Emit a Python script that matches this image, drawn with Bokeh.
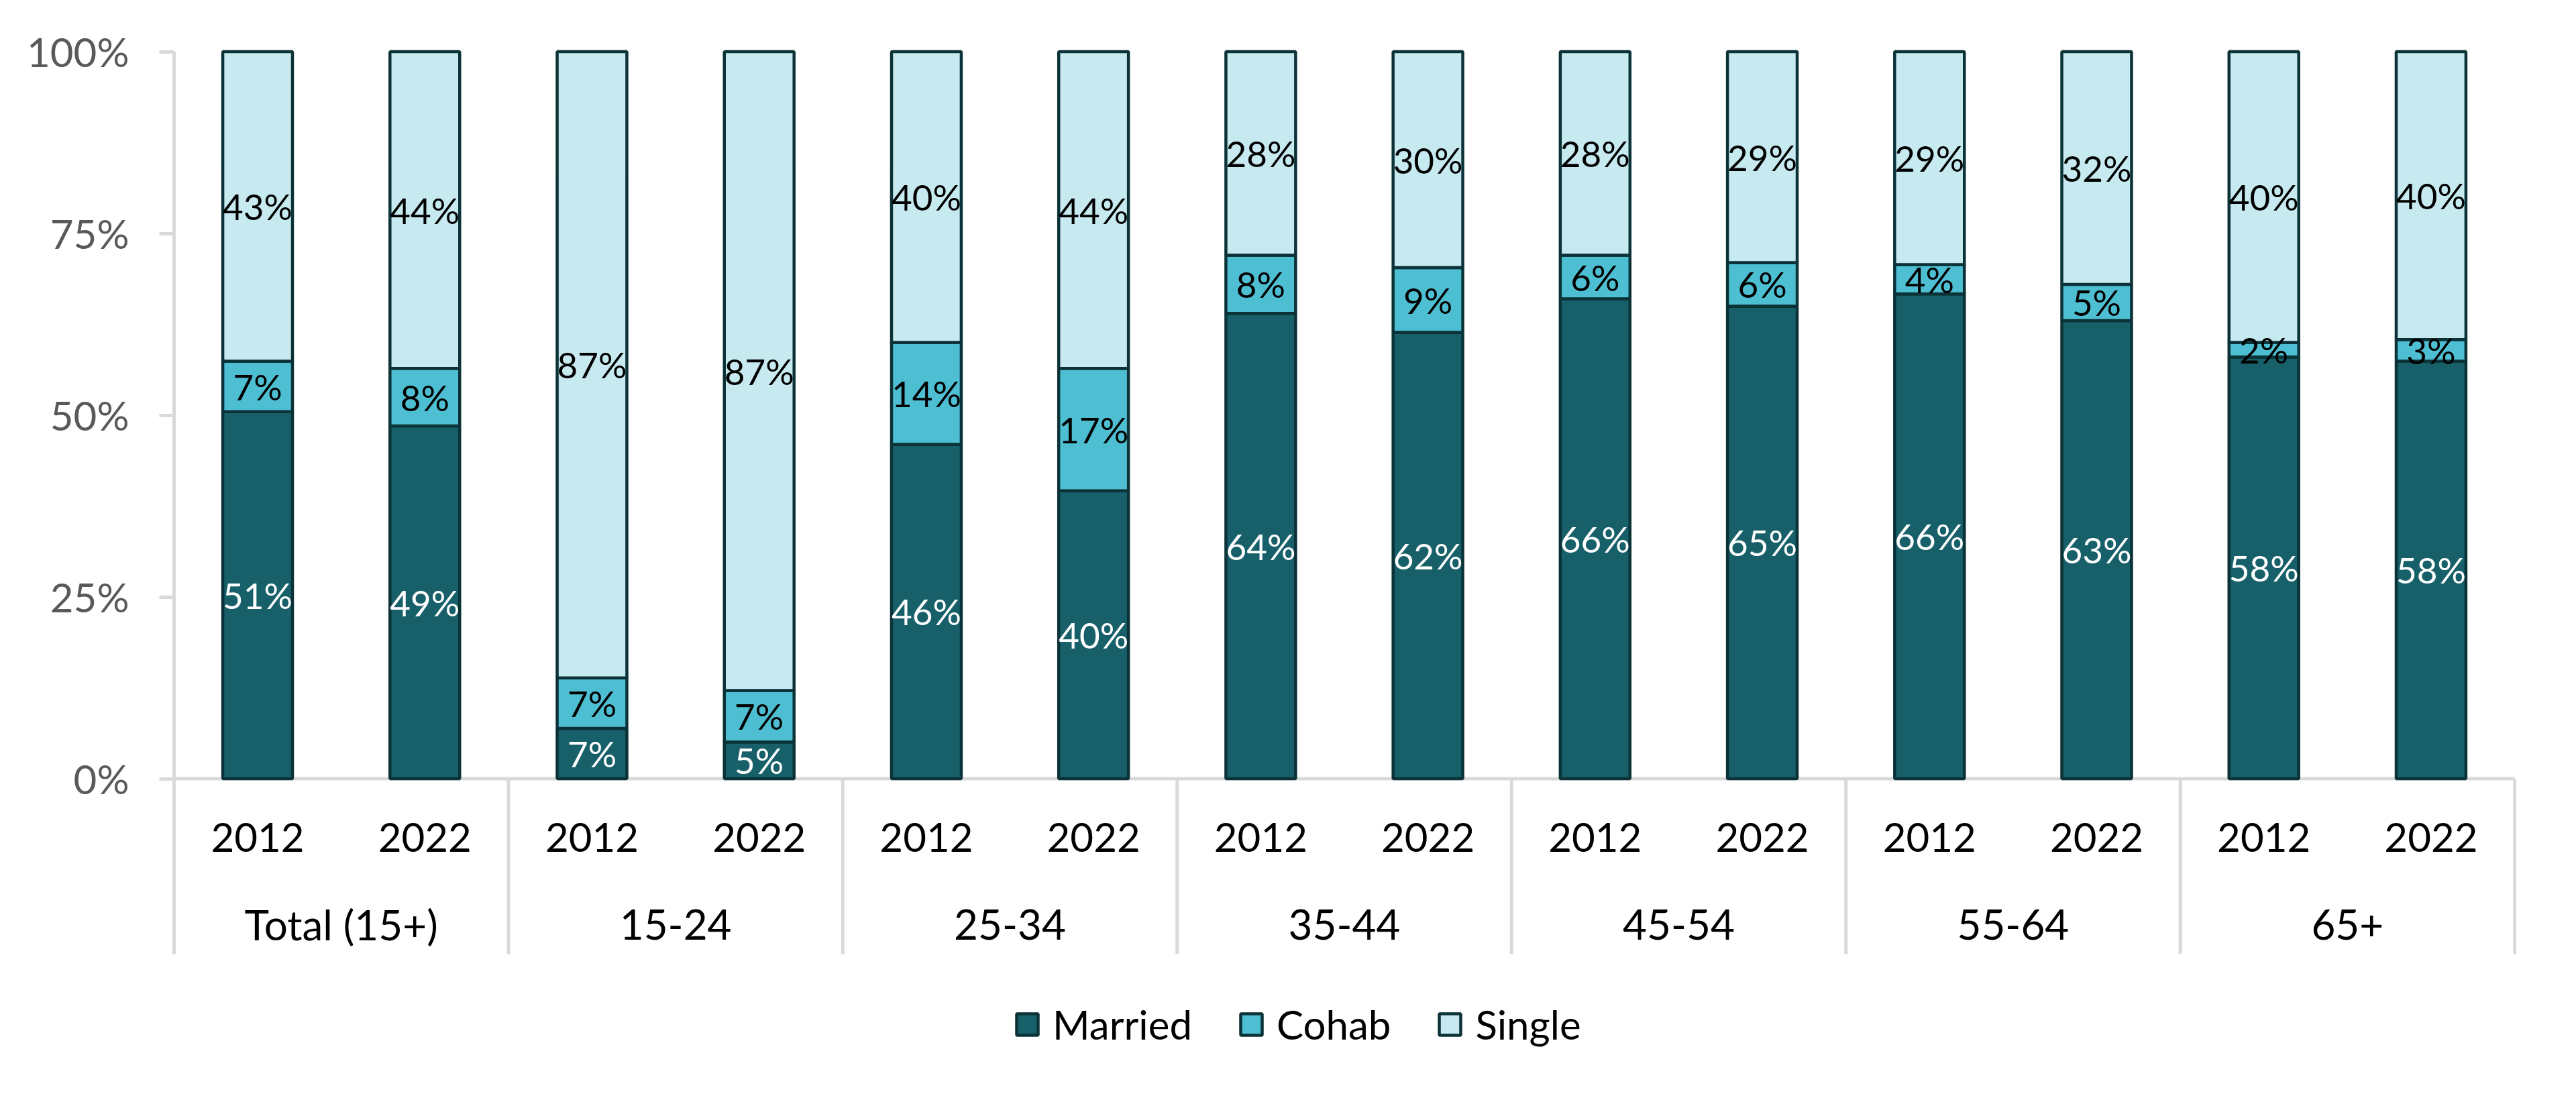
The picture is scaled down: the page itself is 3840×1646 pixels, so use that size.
from bokeh.plotting import figure
from bokeh.models import (FactorRange, Range1d, ColumnDataSource, Legend, LegendItem,
                          FixedTicker, CategoricalAxis, LinearAxis, CustomJSTickFormatter)
from bokeh.core.properties import value
from bokeh.embed import file_html
from bokeh.resources import INLINE

# ---------------- data ----------------
groups = ["Total (15+)", "15-24", "25-34", "35-44", "45-54", "55-64", "65+"]
years = ["2012", "2022"]
series = ["Married", "Cohab", "Single"]
married = [51, 49, 7, 5, 46, 40, 64, 62, 66, 65, 66, 63, 58, 58]
cohab = [7, 8, 7, 7, 14, 17, 8, 9, 6, 6, 4, 5, 2, 3]
single = [43, 44, 87, 87, 40, 44, 28, 30, 28, 29, 29, 32, 40, 40]
y_ticks = [0, 25, 50, 75, 100]

# ---------------- style ----------------
colors = ["#17606A", "#4EBFD2", "#C7EAF0"]
label_colors = ["#FFFFFF", "#000000", "#000000"]
outline = "#0B3237"
grid_grey = "#D9D9D9"
FONT = "Lato"

keys = [f"{g}|{y}" for g in groups for y in years]

raw = {"Married": married, "Cohab": cohab, "Single": single}
totals = [m + c + s for m, c, s in zip(married, cohab, single)]
data = {"x": keys}
for s in series:
    data[s] = [v / t * 100 for v, t in zip(raw[s], totals)]
src = ColumnDataSource(data)

p = figure(x_range=FactorRange(*keys, range_padding=0.06, range_padding_units="absolute",
                               factor_padding=0),
           y_range=Range1d(-41.19, 101.34),
           width=3800, height=1615, output_backend="svg", toolbar_location=None,
           x_axis_location=None, y_axis_location=None,
           min_border_left=244, min_border_right=37, min_border_top=62, min_border_bottom=8,
           outline_line_color=None)
p.xgrid.visible = False
p.ygrid.visible = False

# y axis
yaxis = LinearAxis(ticker=FixedTicker(ticks=y_ticks),
                   major_label_overrides={t: f"{t}%" for t in y_ticks},
                   axis_line_color=None, minor_tick_line_color=None,
                   major_tick_line_color=grid_grey, major_tick_line_width=5,
                   major_tick_in=15, major_tick_out=7, major_label_standoff=45,
                   major_label_text_font=FONT, major_label_text_font_size="60px",
                   major_label_text_color="#595959")
p.add_layout(yaxis, "left")

# x axis (years) at y=0
xaxis = CategoricalAxis(fixed_location=0,
                        formatter=CustomJSTickFormatter(code="return tick.split('|')[1];"),
                        axis_line_color=None, major_tick_line_color=None,
                        major_tick_in=0, major_tick_out=0,
                        minor_tick_line_color=None, major_label_standoff=66,
                        major_label_text_font=FONT, major_label_text_font_size="60px",
                        major_label_text_color="#000000")
p.add_layout(xaxis, "below")

# separators and baseline
first_keys = [f"{g}|{years[0]}" for g in groups]
last_key = keys[-1]
sep_x = [(k, -0.5) for k in first_keys] + [(last_key, 0.5)]
sep_top = [100] + [0] * (len(sep_x) - 1)
sep_src = ColumnDataSource(dict(x=sep_x, y0=[-24.12] * len(sep_x), y1=sep_top))
p.segment(x0="x", y0="y0", x1="x", y1="y1", source=sep_src,
          line_color=grid_grey, line_width=5)
p.segment(x0=[(first_keys[0], -0.5)], y0=[0], x1=[(last_key, 0.5)], y1=[0],
          line_color=grid_grey, line_width=5)

# bars
renderers = p.vbar_stack(series, x="x", width=0.417, source=src, color=colors,
                         line_color=outline, line_width=4.5)

# data labels
for i, s in enumerate(series):
    bottoms = [sum(data[t][j] for t in series[:i]) for j in range(len(keys))]
    centers = [b + v / 2 for b, v in zip(bottoms, data[s])]
    lsrc = ColumnDataSource(dict(x=keys, y=centers, t=[f"{v}%" for v in raw[s]]))
    p.text(x="x", y="y", text="t", source=lsrc, text_align="center",
           text_baseline="middle", text_font=value(FONT), text_font_size="53px",
           text_color=label_colors[i])

# group labels
gsrc = ColumnDataSource(dict(x=[(k, 0.5) for k in first_keys], y=[-20.06] * len(groups), t=groups))
p.text(x="x", y="y", text="t", source=gsrc, text_align="center", text_baseline="middle",
       text_font=value(FONT), text_font_size="62px", text_color="#000000")

# legend
legend = Legend(items=[LegendItem(label=s, renderers=[r]) for s, r in zip(series, renderers)],
                orientation="horizontal", location=(1267, 44),
                label_text_font=FONT, label_text_font_size="60px", label_text_color="#000000",
                glyph_width=40, glyph_height=40, label_standoff=18, spacing=68,
                padding=0, margin=0, border_line_alpha=0, background_fill_alpha=0)
p.add_layout(legend, "center")

open("out.html", "w").write(file_html(p, INLINE))
